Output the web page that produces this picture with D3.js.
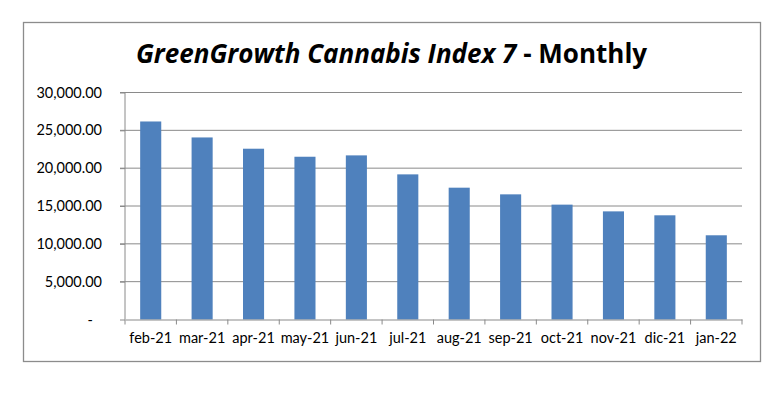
<!DOCTYPE html>
<html><head><meta charset="utf-8">
<script src="https://cdn.jsdelivr.net/npm/d3@7"></script>
<style>body{margin:0;background:#fff}svg{display:block}</style>
</head><body>
<svg id="c" width="783" height="396"></svg>
<script>
const categories = ["feb-21","mar-21","apr-21","may-21","jun-21","jul-21","aug-21","sep-21","oct-21","nov-21","dic-21","jan-22"];
const values = [26170, 24060, 22570, 21510, 21690, 19180, 17420, 16540, 15180, 14290, 13770, 11130];
const yTicks = [0, 5000, 10000, 15000, 20000, 25000, 30000];
const titleItalic = "GreenGrowth Cannabis Index 7";
const titleRest = " - Monthly";

const svg = d3.select("#c");
const font = "Lato, 'Open Sans', sans-serif";
const m = {left:125, right:742, top:92.5, bottom:319.5};

svg.append("rect").attr("x",23.5).attr("y",22.5).attr("width",737).attr("height",339)
  .attr("fill","#fff").attr("stroke","#8c8c8c").attr("stroke-width",1.3);

const t = svg.append("text").attr("x",391.5).attr("y",62.5).attr("text-anchor","middle")
  .attr("font-family","'Open Sans', Lato, sans-serif").attr("font-size",26).attr("font-weight","bold").attr("fill","#000");
t.append("tspan").attr("font-style","italic").text(titleItalic);
t.append("tspan").text(titleRest);

const x = d3.scaleBand().domain(categories).range([m.left, m.right]).paddingInner(0.59).paddingOuter(0.295);
const xc = d3.scaleBand().domain(categories).range([m.left, m.right]);
const y = d3.scaleLinear().domain([0,30000]).range([m.bottom, m.top]);

// gridlines
svg.append("g").selectAll("line").data(yTicks.filter(d=>d>0)).join("line")
  .attr("x1",m.left-5).attr("x2",m.right).attr("y1",d=>y(d)).attr("y2",d=>y(d))
  .attr("stroke","#8a8a8a").attr("stroke-width",1);

// bars
svg.append("g").selectAll("rect").data(values).join("rect")
  .attr("x",(d,i)=>x(categories[i])).attr("width",x.bandwidth())
  .attr("y",d=>y(d)).attr("height",d=>y(0)-y(d)).attr("fill","#4f81bd");

// y axis
const fmt = d3.format(",.2f");
const ya = svg.append("g").attr("transform",`translate(${m.left},0)`)
  .call(d3.axisLeft(y).tickValues(yTicks).tickSize(5).tickPadding(18).tickFormat(d=>d===0?"-":fmt(d)));
ya.select(".domain").attr("stroke","#8a8a8a").attr("d",`M-5,${m.top}H0V${m.bottom}`);
ya.selectAll(".tick line").attr("stroke","#8a8a8a");
ya.selectAll(".tick text").attr("font-family",font).attr("font-size",14.5).attr("fill","#000")
  .attr("dx",d=>d===0?"-9":"0");

// x axis
const xa = svg.append("g").attr("transform",`translate(0,${m.bottom})`)
  .call(d3.axisBottom(xc).tickSize(0).tickPadding(13));
xa.select(".domain").attr("stroke","#8a8a8a");
xa.selectAll(".tick text").attr("font-family",font).attr("font-size",14.5).attr("fill","#000");
// category boundary tick marks
svg.append("g").selectAll("line").data(categories.concat(["end"])).join("line")
  .attr("x1",(d,i)=>m.left+i*xc.step()).attr("x2",(d,i)=>m.left+i*xc.step())
  .attr("y1",m.bottom).attr("y2",m.bottom+5).attr("stroke","#8a8a8a");
</script>
</body></html>
